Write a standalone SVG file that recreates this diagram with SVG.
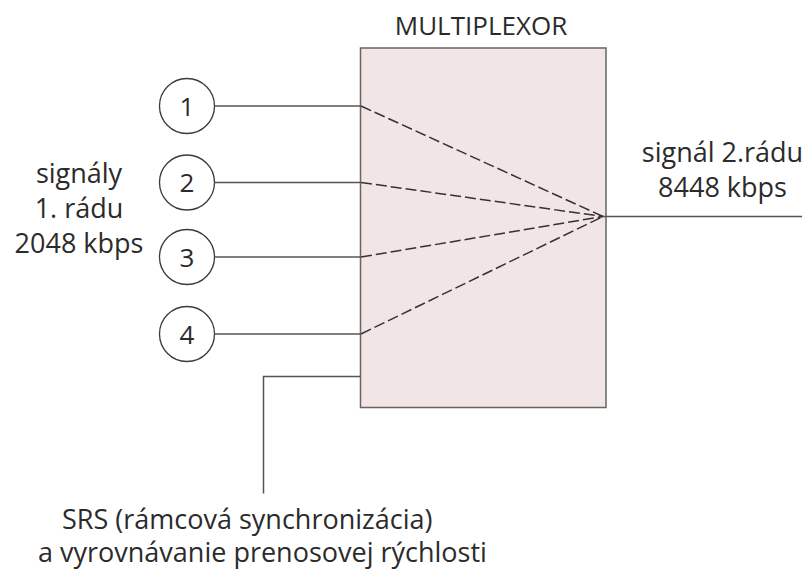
<svg xmlns="http://www.w3.org/2000/svg" width="802" height="571" viewBox="0 0 802 571">
  <style>
    text { font-family: "Open Sans", "Noto Sans", "DejaVu Sans", sans-serif; font-size: 27px; fill: #2b2b2b; text-anchor: middle; }
    .title { font-size: 26px; }
    .left { text-anchor: start; }
    .node circle { fill: #ffffff; stroke: #3a3a3a; stroke-width: 1.3; }
    .node text { font-size: 26px; }
    .wire { fill: none; stroke: #555555; stroke-width: 1.5; }
    .dash { fill: none; stroke: #333333; stroke-width: 1.5; stroke-dasharray: 11 4; }
  </style>
  <rect width="802" height="571" fill="#ffffff"/>

  <!-- multiplexer block -->
  <g id="multiplexor">
    <rect x="360.5" y="48" width="245.5" height="359.5" fill="#f2e5e5" stroke="#666666" stroke-width="1.5"/>
    <text class="title" x="481" y="35">MULTIPLEXOR</text>
  </g>

  <!-- input tributaries -->
  <g id="in1" class="node">
    <circle cx="187" cy="106" r="27.5"/>
    <text x="187" y="115.5">1</text>
  </g>
  <g id="in2" class="node">
    <circle cx="187" cy="182.5" r="27.5"/>
    <text x="187" y="192">2</text>
  </g>
  <g id="in3" class="node">
    <circle cx="187" cy="257" r="27.5"/>
    <text x="187" y="266.5">3</text>
  </g>
  <g id="in4" class="node">
    <circle cx="187" cy="334" r="27.5"/>
    <text x="187" y="343.5">4</text>
  </g>

  <!-- connectors -->
  <g id="connectors">
    <line class="wire" x1="214.5" y1="106" x2="360.5" y2="106"/>
    <line class="wire" x1="214.5" y1="182.5" x2="360.5" y2="182.5"/>
    <line class="wire" x1="214.5" y1="257" x2="360.5" y2="257"/>
    <line class="wire" x1="214.5" y1="334" x2="360.5" y2="334"/>
    <line class="dash" x1="361" y1="106" x2="603" y2="216.5"/>
    <line class="dash" x1="361" y1="182.5" x2="603" y2="216.5"/>
    <line class="dash" x1="361" y1="257" x2="603" y2="216.5"/>
    <line class="dash" x1="361" y1="334" x2="603" y2="216.5"/>
    <line class="wire" x1="603" y1="216.5" x2="802" y2="216.5"/>
    <polyline class="wire" points="360.5,376.5 263.5,376.5 263.5,493.5"/>
  </g>

  <!-- labels -->
  <g id="labels">
    <text x="79" y="183">signály</text>
    <text x="79" y="218">1. rádu</text>
    <text x="79" y="253">2048 kbps</text>
    <text x="722.5" y="161.5">signál 2.rádu</text>
    <text x="722.5" y="196.5">8448 kbps</text>
    <text class="left" x="62" y="529">SRS (rámcová synchronizácia)</text>
    <text class="left" x="38" y="562">a vyrovnávanie prenosovej rýchlosti</text>
  </g>
</svg>
